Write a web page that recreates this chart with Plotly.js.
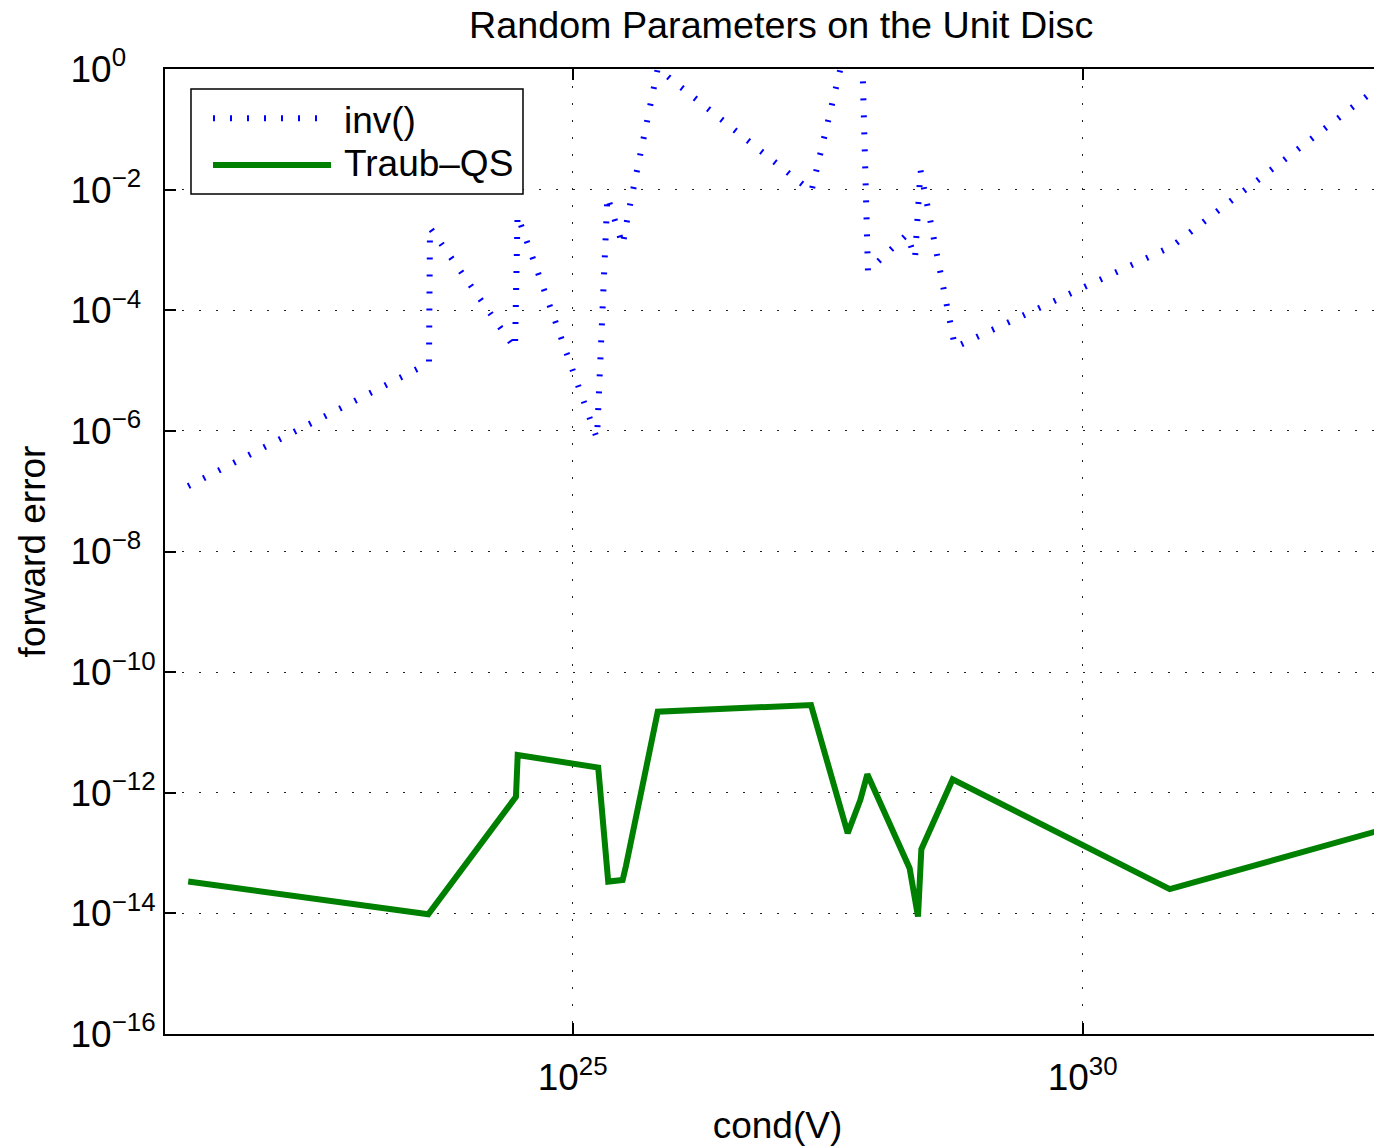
<!DOCTYPE html>
<html>
<head>
<meta charset="utf-8">
<script src="https://cdn.plot.ly/plotly-3.0.1.min.js"></script>
<style>
html, body { margin: 0; padding: 0; overflow: hidden; background: #fff; }
#chart { width: 1390px; height: 1148px; }
</style>
</head>
<body>
<div id="chart"></div>
<script>
// ---- data ----
const invCond = [1.70e21, 3.90e23, 3.99e23, 2.72e24, 2.88e24, 1.73e25, 2.19e25, 3.09e25, 3.48e25, 6.82e25,
                 2.19e27, 6.61e27, 7.85e27, 1.90e28, 2.27e28, 2.57e28, 5.60e28, 7.50e30, 7.41e32];
const invErr  = [1.21e-7, 1.34e-5, 2.34e-3, 2.32e-5, 3.75e-3, 7.46e-7, 7.74e-3, 1.19e-3, 3.75e-3, 1.02,
                 9.35e-3, 25.1, 4.47e-4, 1.81e-3, 7.24e-4, 2.09e-2, 2.44e-5, 1.15e-3, 0.457];

const traubCond = [1.70e21, 3.84e23, 2.78e24, 2.89e24, 1.78e25, 2.23e25, 3.09e25, 3.33e25, 6.82e25, 2.17e27,
                   4.97e27, 6.61e27, 7.74e27, 2.01e28, 2.43e28, 2.62e28, 5.31e28, 7.14e30, 7.35e32];
const traubErr  = [3.37e-14, 9.70e-15, 8.61e-13, 4.23e-12, 2.61e-12, 3.37e-14, 3.59e-14, 6.11e-14, 2.21e-11, 2.85e-11,
                   2.13e-13, 7.60e-13, 2.02e-12, 5.61e-14, 8.85e-15, 1.16e-13, 1.67e-12, 2.52e-14, 2.26e-13];

const seriesNames = ['inv()', 'Traub\u2013QS'];

const xTickVals = [1e25, 1e30];
const xTickText = ['10<sup>25</sup>', '10<sup>30</sup>'];
// MATLAB keeps the "10" of every label in the same column; invisible padding reproduces that
const PAD1 = '<span style="color:rgba(0,0,0,0)">0</span>';
const PAD2 = '<span style="color:rgba(0,0,0,0)">\u22121</span>';
const yTickVals = [1e-16, 1e-14, 1e-12, 1e-10, 1e-8, 1e-6, 1e-4, 1e-2, 1];
const yTickText = ['10<sup>\u221216</sup>', '10<sup>\u221214</sup>', '10<sup>\u221212</sup>', '10<sup>\u221210</sup>',
                   '10<sup>\u22128' + PAD1 + '</sup>', '10<sup>\u22126' + PAD1 + '</sup>',
                   '10<sup>\u22124' + PAD1 + '</sup>', '10<sup>\u22122' + PAD1 + '</sup>',
                   '10<sup>0' + PAD2 + '</sup>'];

const FONT = '"Liberation Sans", Arial, Helvetica, sans-serif';
const FS = 37;
const BLUE = 'rgb(0,0,255)';
const GREEN = 'rgb(0,128,0)';
const BLUE_DASH = '2px,15px';

const traces = [
  {
    x: invCond, y: invErr, name: seriesNames[0], type: 'scatter', mode: 'lines',
    line: { color: BLUE, width: 6, dash: BLUE_DASH }, showlegend: false
  },
  {
    x: traubCond, y: traubErr, name: seriesNames[1], type: 'scatter', mode: 'lines',
    line: { color: GREEN, width: 6 }, showlegend: false
  }
];

const gridStyle = { showgrid: true, gridcolor: '#222', gridwidth: 1, griddash: '2px,15px' };

// legend box drawn in paper coordinates (plot area: 1225 x 965 px)
const legendShapes = [
  { type: 'rect', xref: 'paper', yref: 'paper', x0: 0.02122, x1: 0.29224, y0: 0.87047, y1: 0.97927,
    line: { color: '#000', width: 1.5 }, fillcolor: '#fff', layer: 'above' },
  { type: 'line', xref: 'paper', yref: 'paper', x0: 0.03918, x1: 0.13551, y0: 0.94891, y1: 0.94891,
    line: { color: BLUE, width: 6, dash: BLUE_DASH }, layer: 'above' },
  { type: 'line', xref: 'paper', yref: 'paper', x0: 0.03918, x1: 0.13551, y0: 0.90052, y1: 0.90052,
    line: { color: GREEN, width: 6 }, layer: 'above' }
];
const legendTexts = [
  { xref: 'paper', yref: 'paper', x: 0.1445, y: 0.9466, xanchor: 'left', yanchor: 'middle',
    text: seriesNames[0], showarrow: false, font: { family: FONT, size: FS, color: '#000' } },
  { xref: 'paper', yref: 'paper', x: 0.1445, y: 0.9020, xanchor: 'left', yanchor: 'middle',
    text: seriesNames[1], showarrow: false, font: { family: FONT, size: FS, color: '#000' } }
];

const layout = {
  width: 1390, height: 1148,
  margin: { l: 165, r: 0, t: 69, b: 114 },
  paper_bgcolor: '#fff', plot_bgcolor: '#fff',
  font: { family: FONT, size: FS, color: '#000' },
  title: {
    text: 'Random Parameters on the Unit Disc',
    font: { family: FONT, size: 37.7, color: '#000' },
    xref: 'paper', x: 0.503, xanchor: 'center',
    yref: 'container', y: 0.978, yanchor: 'middle'
  },
  xaxis: Object.assign({
    type: 'log', range: [21.003, 33.013], autorange: false,
    tickmode: 'array', tickvals: xTickVals, ticktext: xTickText,
    ticks: 'inside', ticklen: 11, tickwidth: 2, tickcolor: '#000',
    showline: true, linecolor: '#000', linewidth: 2, mirror: 'ticks',
    zeroline: false, ticklabelstandoff: 10,
    tickfont: { family: FONT, size: FS, color: '#000' },
    title: { text: 'cond(V)', font: { family: FONT, size: FS, color: '#000' }, standoff: 15 }
  }, gridStyle),
  yaxis: Object.assign({
    type: 'log', range: [-16, 0], autorange: false,
    tickmode: 'array', tickvals: yTickVals, ticktext: yTickText,
    ticks: 'inside', ticklen: 11, tickwidth: 2, tickcolor: '#000',
    showline: true, linecolor: '#000', linewidth: 2, mirror: 'ticks',
    zeroline: false,
    tickfont: { family: FONT, size: FS, color: '#000' },
    title: { text: 'forward error', font: { family: FONT, size: FS, color: '#000' }, standoff: 14 }
  }, gridStyle),
  showlegend: false,
  shapes: legendShapes,
  annotations: legendTexts
};

Plotly.newPlot('chart', traces, layout, { displayModeBar: false, staticPlot: true });
</script>
</body>
</html>
